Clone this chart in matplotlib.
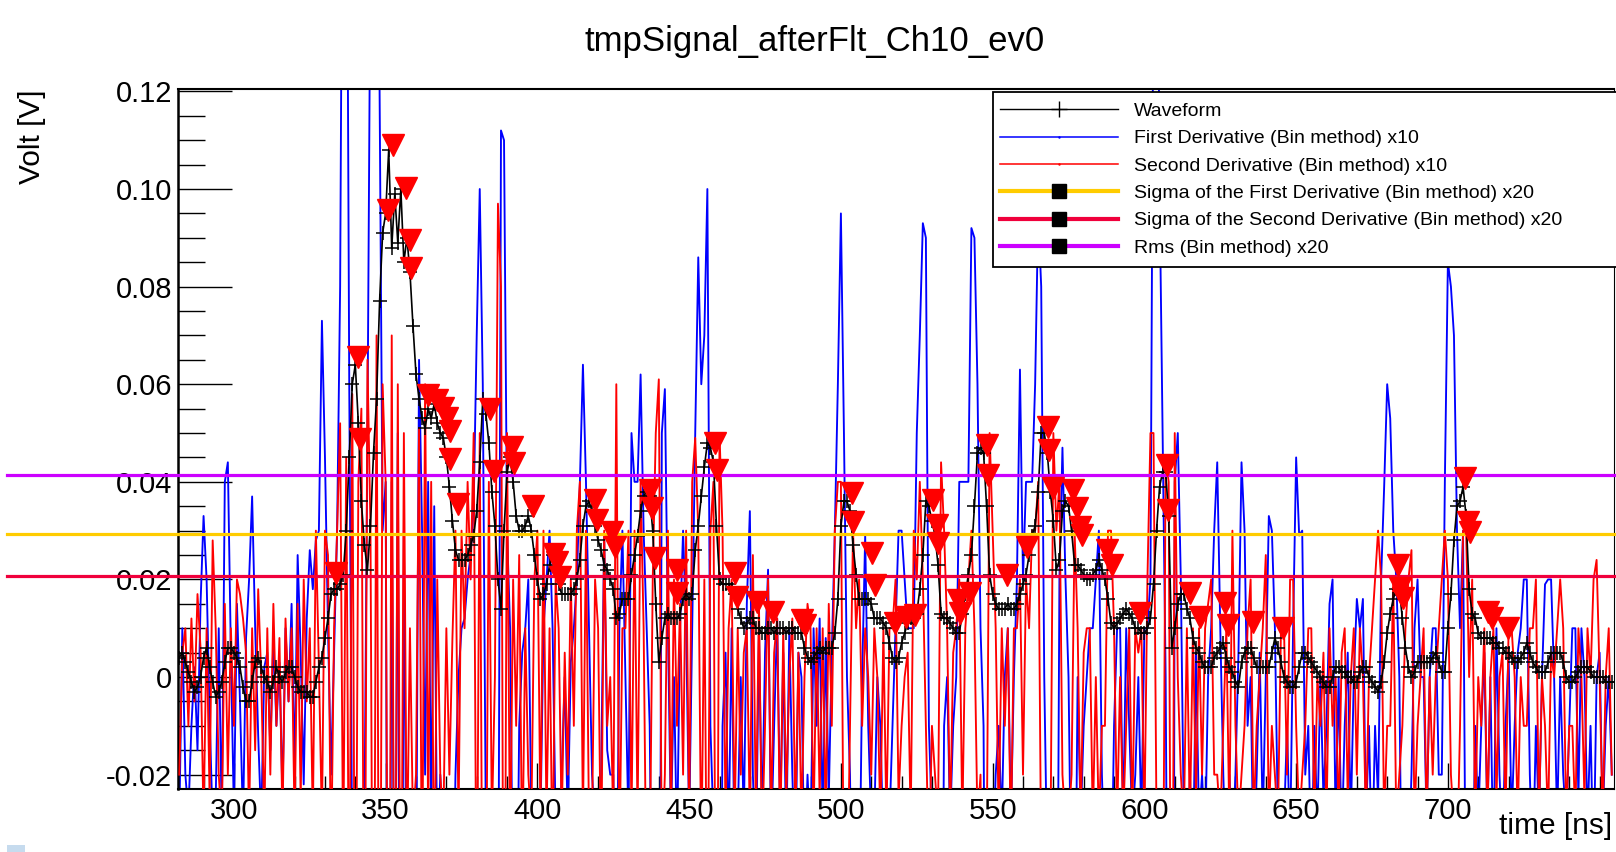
import numpy as np
import matplotlib
matplotlib.use("Agg")
import matplotlib.pyplot as plt
from matplotlib.lines import Line2D
from matplotlib.patches import Rectangle
from matplotlib.ticker import FixedLocator, MultipleLocator

plt.rcParams['font.family'] = ['Liberation Sans', 'DejaVu Sans']

# 1 ns bins, first bin at 282 ns
t_start = 282

# waveform [V], one value per ns
waveform = [
    0.004, 0.005, 0.003, 0.001, -0.001, -0.003, -0.002, 0.000, 0.004, 0.006,  # 282
    0.002, -0.001, -0.004, -0.003, -0.001, 0.003, 0.006, 0.006, 0.005, 0.004,  # 292
    0.002, -0.002, -0.005, -0.005, -0.001, 0.003, 0.004, 0.002, 0.000, -0.001,  # 302
    -0.003, -0.001, 0.002, 0.000, -0.001, 0.001, 0.002, 0.002, 0.000, -0.002,  # 312
    -0.003, -0.003, -0.003, -0.004, -0.004, -0.001, 0.002, 0.004, 0.008, 0.012,  # 322
    0.017, 0.018, 0.018, 0.019, 0.021, 0.030, 0.045, 0.060, 0.064, 0.052,  # 332
    0.036, 0.027, 0.022, 0.031, 0.046, 0.057, 0.077, 0.091, 0.095, 0.108,  # 342
    0.088, 0.099, 0.089, 0.100, 0.085, 0.090, 0.083, 0.072, 0.062, 0.057,  # 352
    0.053, 0.051, 0.055, 0.053, 0.056, 0.052, 0.050, 0.049, 0.045, 0.039,  # 362
    0.032, 0.026, 0.024, 0.024, 0.024, 0.025, 0.027, 0.029, 0.034, 0.044,  # 372
    0.057, 0.054, 0.048, 0.038, 0.031, 0.020, 0.014, 0.030, 0.042, 0.045,  # 382
    0.040, 0.033, 0.030, 0.030, 0.031, 0.033, 0.030, 0.025, 0.020, 0.016,  # 392
    0.017, 0.019, 0.023, 0.025, 0.022, 0.019, 0.017, 0.017, 0.017, 0.017,  # 402
    0.018, 0.020, 0.024, 0.031, 0.035, 0.036, 0.034, 0.031, 0.028, 0.026,  # 412
    0.023, 0.022, 0.020, 0.018, 0.012, 0.013, 0.016, 0.016, 0.016, 0.021,  # 422
    0.025, 0.029, 0.034, 0.037, 0.038, 0.037, 0.030, 0.015, 0.003, 0.008,  # 432
    0.012, 0.013, 0.012, 0.012, 0.012, 0.013, 0.016, 0.017, 0.016, 0.017,  # 442
    0.026, 0.031, 0.037, 0.043, 0.048, 0.047, 0.044, 0.031, 0.020, 0.019,  # 452
    0.019, 0.019, 0.018, 0.017, 0.014, 0.012, 0.010, 0.011, 0.012, 0.012,  # 462
    0.010, 0.010, 0.009, 0.009, 0.010, 0.010, 0.009, 0.010, 0.010, 0.010,  # 472
    0.009, 0.010, 0.010, 0.009, 0.009, 0.009, 0.006, 0.004, 0.003, 0.004,  # 482
    0.005, 0.006, 0.005, 0.006, 0.006, 0.006, 0.009, 0.016, 0.031, 0.036,  # 492
    0.036, 0.034, 0.027, 0.021, 0.016, 0.016, 0.016, 0.016, 0.015, 0.012,  # 502
    0.012, 0.012, 0.011, 0.010, 0.007, 0.004, 0.003, 0.004, 0.007, 0.009,  # 512
    0.011, 0.012, 0.012, 0.013, 0.018, 0.025, 0.036, 0.035, 0.032, 0.029,  # 522
    0.023, 0.013, 0.012, 0.012, 0.011, 0.010, 0.009, 0.009, 0.013, 0.017,  # 532
    0.021, 0.025, 0.035, 0.046, 0.047, 0.046, 0.035, 0.021, 0.017, 0.015,  # 542
    0.014, 0.014, 0.014, 0.015, 0.014, 0.014, 0.015, 0.017, 0.019, 0.021,  # 552
    0.025, 0.029, 0.031, 0.038, 0.050, 0.050, 0.046, 0.038, 0.032, 0.022,  # 562
    0.024, 0.034, 0.036, 0.035, 0.030, 0.023, 0.023, 0.022, 0.021, 0.020,  # 572
    0.020, 0.021, 0.022, 0.024, 0.022, 0.020, 0.016, 0.011, 0.010, 0.011,  # 582
    0.012, 0.013, 0.014, 0.013, 0.012, 0.010, 0.010, 0.009, 0.009, 0.010,  # 592
    0.012, 0.019, 0.030, 0.039, 0.042, 0.042, 0.033, 0.006, 0.010, 0.015,  # 602
    0.017, 0.017, 0.014, 0.012, 0.008, 0.006, 0.005, 0.003, 0.002, 0.002,  # 612
    0.002, 0.004, 0.005, 0.006, 0.007, 0.004, 0.002, 0.001, -0.001, -0.002,  # 622
    0.003, 0.005, 0.006, 0.006, 0.004, 0.002, 0.002, 0.002, 0.002, 0.002,  # 632
    0.005, 0.008, 0.006, 0.003, 0.000, -0.001, -0.002, -0.002, -0.001, 0.002,  # 642
    0.005, 0.005, 0.004, 0.003, 0.002, 0.001, 0.000, -0.001, -0.002, -0.002,  # 652
    0.000, 0.002, 0.002, 0.001, 0.001, 0.000, 0.000, -0.001, -0.001, 0.001,  # 662
    0.002, 0.002, 0.000, -0.001, -0.002, -0.003, -0.001, 0.003, 0.009, 0.013,  # 672
    0.016, 0.018, 0.018, 0.012, 0.006, 0.002, 0.000, 0.001, 0.003, 0.003,  # 682
    0.003, 0.003, 0.003, 0.004, 0.005, 0.003, 0.001, 0.001, 0.010, 0.017,  # 692
    0.028, 0.035, 0.036, 0.039, 0.033, 0.018, 0.013, 0.012, 0.009, 0.008,  # 702
    0.008, 0.008, 0.008, 0.007, 0.007, 0.006, 0.006, 0.005, 0.005, 0.004,  # 712
    0.003, 0.003, 0.004, 0.005, 0.007, 0.005, 0.003, 0.002, 0.001, 0.001,  # 722
    0.001, 0.003, 0.005, 0.005, 0.005, 0.005, 0.003, 0.000, -0.001, -0.001,  # 732
    0.000, 0.001, 0.002, 0.002, 0.002, 0.001, 0.000, 0.000, 0.000, 0.000,  # 742
    -0.001, -0.001, -0.001,  # 752
]

# first derivative x10 [V]
first_deriv = [
    -0.030, 0.010, -0.020, -0.028, -0.010, 0.002, -0.015, 0.015, 0.033, 0.020,  # 282
    -0.008, -0.030, -0.025, 0.010, -0.030, 0.040, 0.044, 0.005, -0.028, 0.015,  # 292
    -0.005, -0.030, 0.008, 0.020, 0.037, 0.010, -0.012, -0.030, 0.002, 0.005,  # 302
    -0.015, 0.008, -0.010, 0.003, -0.025, 0.010, -0.005, 0.015, -0.020, 0.025,  # 312
    0.005, -0.022, 0.012, 0.026, 0.018, 0.028, 0.030, 0.073, 0.045, 0.010,  # 322
    -0.020, 0.005, 0.030, 0.080, 0.200, 0.200, 0.060, -0.040, -0.150, -0.100,  # 332
    -0.060, -0.030, 0.050, 0.150, 0.200, 0.200, 0.120, 0.030, 0.040, -0.150,  # 342
    0.040, -0.080, 0.050, -0.140, 0.030, -0.060, -0.100, -0.100, -0.050, 0.065,  # 352
    0.030, -0.020, 0.040, -0.030, 0.035, -0.040, -0.020, -0.040, -0.060, -0.060,  # 362
    -0.060, -0.020, 0.000, 0.010, 0.012, 0.020, 0.025, 0.035, 0.070, 0.100,  # 372
    0.060, -0.030, -0.080, -0.100, -0.070, -0.080, 0.112, 0.110, 0.030, 0.010,  # 382
    -0.050, -0.070, -0.010, 0.005, 0.010, 0.020, -0.030, -0.050, -0.050, -0.030,  # 392
    0.010, 0.020, 0.030, 0.010, -0.030, -0.040, -0.020, 0.000, -0.030, 0.003,  # 402
    0.010, 0.020, 0.040, 0.064, 0.040, 0.010, -0.020, -0.030, -0.030, -0.020,  # 412
    0.029, -0.015, -0.020, -0.020, -0.060, 0.010, 0.030, 0.000, -0.030, 0.050,  # 422
    0.040, 0.040, 0.062, 0.030, 0.010, -0.010, -0.070, -0.150, -0.120, 0.050,  # 432
    0.059, 0.010, -0.030, 0.000, -0.035, 0.010, 0.030, 0.010, -0.030, 0.010,  # 442
    0.050, 0.086, 0.060, 0.070, 0.100, -0.010, -0.030, -0.130, -0.110, -0.010,  # 452
    0.005, -0.035, 0.010, -0.040, -0.030, 0.000, -0.030, 0.015, 0.034, -0.020,  # 462
    -0.040, 0.010, -0.030, 0.005, 0.022, -0.035, -0.010, 0.012, -0.030, 0.005,  # 472
    -0.035, 0.010, -0.020, -0.040, 0.005, 0.000, -0.040, -0.020, -0.035, 0.010,  # 482
    -0.010, 0.012, -0.030, 0.008, -0.025, 0.005, 0.030, 0.060, 0.095, 0.050,  # 492
    0.000, -0.020, -0.070, -0.060, -0.050, 0.000, 0.029, -0.010, -0.030, -0.030,  # 502
    0.000, -0.010, -0.035, -0.030, -0.030, -0.010, 0.010, 0.030, 0.030, 0.020,  # 512
    0.010, 0.010, 0.010, 0.050, 0.070, 0.093, 0.090, -0.010, -0.030, -0.030,  # 522
    -0.060, -0.100, -0.010, 0.000, -0.030, -0.010, 0.000, 0.040, 0.040, 0.040,  # 532
    0.040, 0.092, 0.090, 0.060, 0.010, -0.010, -0.110, -0.140, -0.040, -0.020,  # 542
    -0.010, -0.030, 0.000, 0.010, -0.030, 0.000, 0.020, 0.063, 0.020, 0.040,  # 552
    0.040, 0.040, 0.060, 0.095, 0.080, 0.000, -0.040, -0.080, -0.060, -0.100,  # 562
    0.020, 0.047, 0.020, 0.000, -0.050, -0.070, 0.000, -0.030, -0.010, 0.000,  # 572
    0.010, 0.010, 0.020, 0.030, -0.020, -0.040, -0.050, -0.050, -0.010, 0.010,  # 582
    0.010, -0.030, 0.010, -0.010, -0.030, -0.020, 0.000, -0.030, 0.010, 0.010,  # 592
    0.020, 0.150, 0.200, 0.100, 0.050, 0.000, -0.100, -0.270, 0.040, 0.050,  # 602
    0.020, -0.030, -0.045, -0.020, -0.040, 0.005, -0.030, -0.020, -0.035, 0.000,  # 612
    0.010, 0.030, 0.044, 0.010, -0.020, -0.040, -0.020, -0.035, -0.020, 0.005,  # 622
    0.044, 0.030, -0.010, 0.000, -0.040, -0.020, 0.005, -0.030, 0.000, 0.033,  # 632
    0.030, 0.010, -0.030, -0.040, -0.030, -0.010, -0.035, 0.010, 0.045, 0.029,  # 642
    0.030, -0.020, -0.010, -0.040, -0.010, -0.030, 0.000, -0.025, -0.010, 0.015,  # 652
    0.020, -0.030, 0.000, -0.035, -0.010, 0.005, -0.030, 0.000, 0.016, 0.010,  # 662
    0.016, -0.030, -0.010, -0.040, -0.010, -0.025, 0.020, 0.039, 0.060, 0.053,  # 672
    0.030, 0.020, 0.000, -0.060, -0.060, -0.040, -0.020, 0.010, 0.020, 0.000,  # 682
    0.000, -0.030, 0.000, 0.010, 0.010, -0.020, -0.020, 0.040, 0.085, 0.080,  # 692
    0.070, 0.030, 0.010, 0.030, -0.060, -0.150, -0.050, -0.010, -0.030, -0.010,  # 702
    0.005, -0.030, 0.000, -0.040, 0.010, -0.020, -0.035, -0.010, 0.005, -0.030,  # 712
    -0.010, 0.005, 0.010, 0.020, 0.020, -0.020, -0.040, -0.010, -0.030, 0.000,  # 722
    0.019, 0.020, 0.020, 0.000, -0.030, 0.000, -0.020, -0.030, -0.010, 0.010,  # 732
    0.010, -0.025, 0.010, 0.000, -0.030, -0.010, -0.040, 0.000, 0.005, -0.030,  # 742
    -0.010, 0.000, -0.020,  # 752
]

# second derivative x10 [V]
second_deriv = [
    -0.020, 0.005, 0.010, -0.010, 0.012, -0.005, 0.017, 0.006, -0.030, 0.010,  # 282
    -0.025, 0.028, 0.010, -0.020, -0.030, 0.015, -0.020, 0.010, -0.010, 0.020,  # 292
    0.017, 0.012, 0.005, -0.030, 0.010, -0.015, 0.018, 0.000, -0.030, 0.010,  # 302
    -0.020, 0.015, -0.010, 0.008, -0.030, 0.012, -0.005, 0.010, -0.030, 0.015,  # 312
    -0.025, 0.020, -0.005, 0.010, -0.030, 0.030, 0.002, -0.030, 0.030, 0.025,  # 322
    -0.040, 0.010, 0.030, 0.052, -0.040, 0.045, -0.060, 0.058, -0.080, 0.040,  # 332
    0.055, -0.080, 0.065, 0.030, -0.100, 0.070, -0.100, 0.060, 0.040, -0.120,  # 342
    0.070, -0.090, 0.060, -0.080, 0.050, -0.040, 0.010, -0.030, -0.020, 0.051,  # 352
    -0.050, 0.060, -0.030, 0.040, -0.050, 0.020, -0.020, -0.030, 0.010, -0.020,  # 362
    0.008, 0.030, -0.030, 0.030, 0.010, 0.040, 0.020, 0.050, -0.060, 0.050,  # 372
    -0.070, -0.060, 0.040, -0.030, 0.000, 0.097, 0.080, -0.100, 0.050, -0.040,  # 382
    0.020, -0.010, 0.025, -0.040, 0.010, -0.020, -0.030, 0.020, 0.030, -0.030,  # 392
    0.030, -0.030, 0.010, -0.040, 0.020, 0.010, -0.030, 0.005, -0.020, 0.020,  # 402
    -0.010, 0.030, 0.040, -0.030, 0.030, -0.030, -0.030, 0.020, 0.010, -0.040,  # 412
    0.030, -0.010, 0.000, -0.030, 0.060, -0.040, 0.010, 0.010, 0.030, -0.030,  # 422
    0.030, -0.030, 0.040, 0.010, -0.050, -0.040, 0.020, 0.050, 0.061, -0.040,  # 432
    -0.020, 0.030, -0.030, 0.020, -0.010, 0.015, -0.020, 0.030, -0.030, 0.040,  # 442
    0.049, 0.030, -0.040, 0.020, -0.060, 0.030, 0.040, -0.100, 0.050, 0.030,  # 452
    -0.030, 0.010, 0.020, -0.030, 0.010, -0.020, 0.005, 0.010, -0.030, 0.025,  # 462
    -0.030, 0.015, -0.035, -0.010, 0.020, -0.030, 0.005, 0.012, -0.035, 0.010,  # 472
    -0.025, 0.000, 0.012, -0.030, 0.005, -0.030, 0.000, 0.015, 0.010, -0.030,  # 482
    0.010, -0.025, 0.010, -0.030, 0.015, -0.010, 0.030, 0.040, 0.040, -0.050,  # 492
    -0.050, -0.010, 0.030, 0.010, 0.020, -0.010, 0.010, 0.000, -0.020, 0.010,  # 502
    0.000, -0.030, 0.010, -0.030, 0.010, 0.010, 0.020, -0.025, -0.010, 0.000,  # 512
    0.005, -0.030, 0.030, 0.020, 0.040, 0.020, -0.010, -0.040, -0.010, -0.020,  # 522
    -0.030, 0.044, 0.030, 0.010, -0.030, 0.005, 0.010, 0.020, -0.030, 0.010,  # 532
    0.020, 0.030, 0.010, -0.030, -0.020, -0.080, -0.040, 0.050, 0.030, 0.010,  # 542
    -0.030, 0.010, -0.010, 0.010, -0.035, 0.010, 0.010, 0.020, -0.020, 0.020,  # 552
    0.010, 0.030, 0.030, 0.040, -0.040, -0.050, -0.030, -0.040, 0.050, 0.030,  # 562
    0.040, -0.020, -0.030, -0.030, -0.020, 0.030, 0.010, -0.030, 0.005, 0.010,  # 572
    0.010, -0.030, 0.000, -0.030, -0.010, -0.010, 0.030, 0.030, 0.010, -0.030,  # 582
    0.000, -0.030, -0.010, 0.010, -0.030, 0.010, 0.005, 0.010, -0.030, 0.020,  # 592
    0.050, 0.050, -0.030, -0.050, -0.070, 0.045, 0.040, -0.100, 0.050, 0.000,  # 602
    -0.020, -0.030, 0.010, -0.030, 0.010, -0.025, 0.010, -0.020, 0.010, 0.015,  # 612
    0.020, -0.020, -0.020, -0.030, -0.010, 0.010, -0.030, 0.030, -0.010, -0.030,  # 622
    -0.020, -0.010, 0.010, 0.020, -0.030, -0.010, 0.000, 0.010, 0.025, -0.030,  # 632
    -0.010, -0.020, -0.030, 0.010, 0.010, -0.020, 0.020, 0.020, -0.010, -0.030,  # 642
    -0.020, -0.010, 0.010, 0.010, -0.030, 0.000, -0.010, 0.005, -0.030, 0.010,  # 652
    -0.010, 0.000, -0.030, 0.005, 0.010, -0.025, 0.000, 0.010, -0.020, 0.010,  # 662
    0.000, -0.030, 0.000, 0.010, 0.020, 0.030, 0.020, -0.030, -0.010, -0.010,  # 672
    0.020, -0.030, -0.020, -0.010, 0.010, 0.020, 0.026, -0.030, -0.010, 0.000,  # 682
    0.010, -0.030, 0.000, -0.020, 0.000, 0.010, 0.020, 0.030, 0.020, -0.020,  # 692
    -0.030, -0.040, -0.010, 0.030, 0.030, 0.000, 0.020, -0.030, 0.000, -0.010,  # 702
    0.010, -0.030, 0.000, 0.010, -0.025, 0.000, 0.005, -0.030, 0.010, 0.010,  # 712
    0.000, -0.030, 0.000, -0.010, -0.010, 0.010, 0.010, 0.020, -0.030, 0.000,  # 722
    -0.010, -0.030, 0.005, 0.000, 0.010, 0.020, 0.010, -0.030, -0.010, -0.010,  # 732
    -0.030, 0.010, 0.000, -0.025, 0.010, 0.000, 0.020, 0.024, 0.000, -0.030,  # 742
    0.000, 0.010, -0.020,  # 752
]

# found peaks (red triangles)
peak_t = [333.8, 340.9, 341.4, 350.8, 352.4, 356.6, 357.9, 358.5, 363.8, 366.8,
          368.9, 370.3, 371.2, 371.3, 373.8, 384.4, 385.8, 391.5, 392.4, 398.4,
          405.6, 406.4, 407.6, 418.9, 419.6, 424.5, 425.5, 437.1, 437.7, 438.7,
          446.0, 446.0, 458.5, 459.1, 465.1, 465.7, 472.3, 477.6, 487.1, 488.1,
          503.6, 504.0, 510.2, 511.2, 517.8, 521.6, 524.3, 530.3, 531.6, 532.0,
          538.6, 539.2, 542.5, 548.1, 548.4, 554.7, 561.3, 568.2, 568.5, 569.8,
          576.4, 577.8, 578.7, 579.4, 587.6, 589.3, 598.5, 607.4, 607.7, 615.0,
          618.3, 626.5, 627.5, 635.8, 645.6, 683.5, 684.2, 685.2, 705.6, 706.6,
          707.3, 713.2, 714.5, 719.8]
peak_v = [0.0213, 0.0656, 0.0487, 0.0958, 0.1090, 0.1002, 0.0895, 0.0838, 0.0578, 0.0568,
          0.0551, 0.0530, 0.0505, 0.0447, 0.0355, 0.0550, 0.0423, 0.0472, 0.0438, 0.0350,
          0.0253, 0.0235, 0.0206, 0.0363, 0.0322, 0.0297, 0.0266, 0.0383, 0.0346, 0.0244,
          0.0219, 0.0172, 0.0480, 0.0424, 0.0213, 0.0164, 0.0154, 0.0133, 0.0117, 0.0107,
          0.0377, 0.0318, 0.0254, 0.0189, 0.0111, 0.0124, 0.0127, 0.0363, 0.0311, 0.0275,
          0.0158, 0.0131, 0.0172, 0.0475, 0.0414, 0.0209, 0.0266, 0.0512, 0.0465, 0.0387,
          0.0383, 0.0346, 0.0307, 0.0291, 0.0260, 0.0230, 0.0131, 0.0434, 0.0342, 0.0172,
          0.0123, 0.0152, 0.0107, 0.0113, 0.0100, 0.0230, 0.0182, 0.0162, 0.0408, 0.0318,
          0.0297, 0.0133, 0.0121, 0.0100]

rms_x20 = 0.0413
sigma_first_x20 = 0.0293
sigma_second_x20 = 0.0208

x_ticks = [300, 350, 400, 450, 500, 550, 600, 650, 700]
y_ticks = [-0.02, 0.0, 0.02, 0.04, 0.06, 0.08, 0.10, 0.12]
y_tick_labels = ['-0.02', '0', '0.02', '0.04', '0.06', '0.08', '0.10', '0.12']

legend_labels = ['Waveform',
                 'First Derivative (Bin method) x10',
                 'Second Derivative (Bin method) x10',
                 'Sigma of the First Derivative (Bin method) x20',
                 'Sigma of the Second Derivative (Bin method) x20',
                 'Rms (Bin method) x20']

c_blue = '#0000ff'
c_red = '#ff0000'
c_yellow = '#ffcc00'
c_sig2 = '#f0003c'
c_rms = '#cc00ff'

fig = plt.figure(figsize=(16.16, 8.52), dpi=100)
ax = fig.add_axes([0.1101, 0.0739, 0.8886, 0.8216])

t_w = t_start + np.arange(len(waveform))
t_1 = t_start + np.arange(len(first_deriv))
t_2 = t_start + np.arange(len(second_deriv))

ax.plot(t_1, first_deriv, color=c_blue, lw=1.35, zorder=2)
ax.plot(t_2, second_deriv, color=c_red, lw=1.35, zorder=3)
ax.plot(t_w, waveform, color='black', lw=1.2, marker='+', ms=9.5, mew=1.1, zorder=4)

# threshold lines run out into the left margin like in the original
for val, col in [(rms_x20, c_rms), (sigma_first_x20, c_yellow), (sigma_second_x20, c_sig2)]:
    ax.axhline(val, xmin=-0.119, xmax=1.0, color=col, lw=2.3, clip_on=False, zorder=5)

ax.plot(peak_t, peak_v, ls='none', marker='v', ms=15.5, color=c_red, mec=c_red, zorder=6)

ax.set_xlim(281.55, 754.7)
ax.set_ylim(-0.02295, 0.12049)

ax.xaxis.set_major_locator(FixedLocator(x_ticks))
ax.xaxis.set_minor_locator(MultipleLocator(10))
ax.yaxis.set_major_locator(FixedLocator(y_ticks))
ax.set_yticklabels(y_tick_labels)
ax.yaxis.set_minor_locator(MultipleLocator(0.005))

ax.tick_params(axis='x', which='major', direction='in', length=18.7, width=1.0,
               labelsize=21, pad=5.5, top=False)
ax.tick_params(axis='x', which='minor', direction='in', length=9.4, width=1.0, top=False)
ax.tick_params(axis='y', which='major', direction='in', length=38.9, width=1.0,
               labelsize=21, pad=4.3, right=False)
ax.tick_params(axis='y', which='minor', direction='in', length=19.4, width=1.0, right=False)

ax.spines['left'].set_linewidth(1.8)
ax.spines['bottom'].set_linewidth(1.5)
ax.spines['top'].set_linewidth(1.5)
ax.spines['right'].set_linewidth(0.8)

fig.text(815 / 1616, 1 - 41 / 852, 'tmpSignal_afterFlt_Ch10_ev0',
         ha='center', va='center', fontsize=25)
fig.text(32 / 1616, 1 - 90 / 852, 'Volt [V]', rotation=90,
         ha='center', va='top', fontsize=21.5)
fig.text(1612 / 1616, 1 - 826 / 852, 'time [ns]', ha='right', va='center', fontsize=21.5)

# legend box drawn separately so the rows can sit where they do in the original
fig.add_artist(Rectangle((993 / 1616, 1 - 267 / 852), 640 / 1616, 175 / 852,
                         transform=fig.transFigure, facecolor='white',
                         edgecolor='black', lw=1.3, zorder=9))

handles = [
    Line2D([], [], color='black', lw=1.0, marker='+', ms=12, mew=1.0),
    Line2D([], [], color=c_blue, lw=1.1, marker='.', ms=1.5),
    Line2D([], [], color=c_red, lw=1.1, marker='.', ms=1.5),
    Line2D([], [], color=c_yellow, lw=3.0, marker='s', ms=10, mfc='black', mec='black'),
    Line2D([], [], color=c_sig2, lw=3.0, marker='s', ms=10, mfc='black', mec='black'),
    Line2D([], [], color=c_rms, lw=3.0, marker='s', ms=10, mfc='black', mec='black'),
]
leg = fig.legend(handles, legend_labels, loc='upper left',
                 bbox_to_anchor=(993 / 1616, 1 - 95.6 / 852),
                 borderaxespad=0, fontsize=14, numpoints=1,
                 handlelength=6.1, handletextpad=0.82, labelspacing=0.50,
                 borderpad=0.35, frameon=False)
leg.set_zorder(10)

fig.add_artist(Rectangle((7 / 1616, 0), 18 / 1616, 7 / 852, transform=fig.transFigure,
                         color='#c6dbee', lw=0))

fig.savefig('out.png', dpi=100)
